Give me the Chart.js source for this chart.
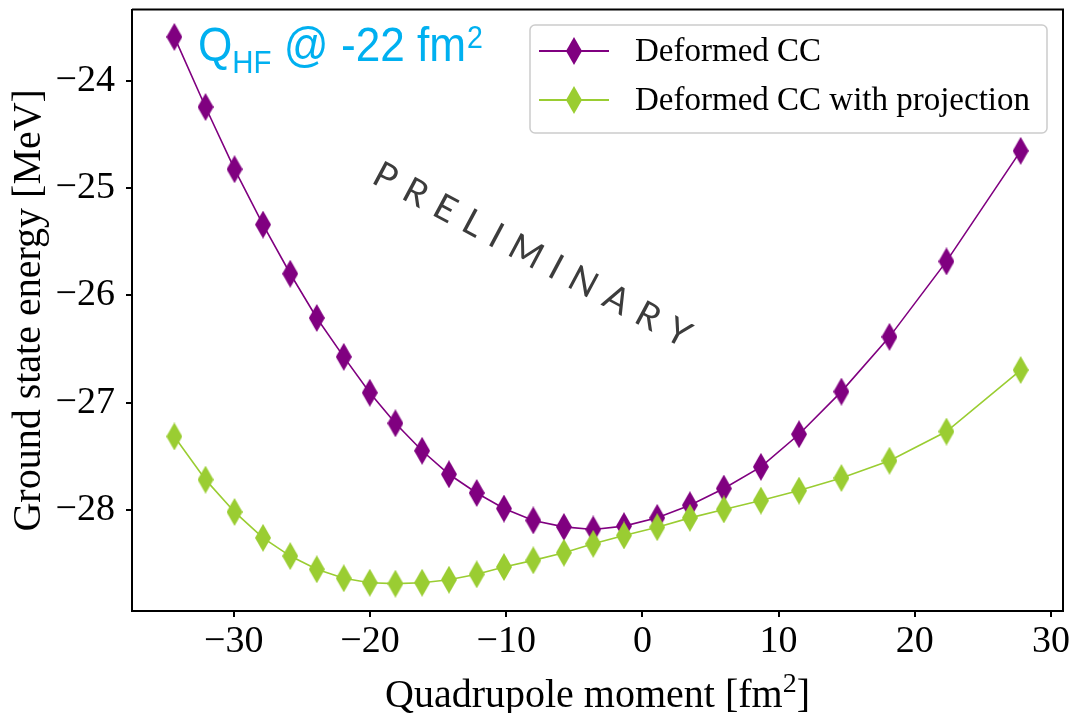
<!DOCTYPE html>
<html>
<head>
<meta charset="utf-8">
<script src="https://cdn.jsdelivr.net/npm/chart.js@4"></script>
<style>
  html, body { margin: 0; padding: 0; background: #fff; }
  #wrap { width: 1073px; height: 713px; }
</style>
</head>
<body>
<div id="wrap"><canvas id="energyChart" width="1073" height="713"></canvas></div>
<script>
// quadrupole moment grid [fm^2]
const quadMoments = [-34.36, -32.07, -29.94, -27.85, -25.85, -23.90, -21.92, -20.01, -18.13, -16.17,
  -14.20, -12.16, -10.16, -8.01, -5.76, -3.61, -1.35, 1.09, 3.49, 5.98, 8.70, 11.50, 14.61, 18.14, 22.32, 27.77];

// ground state energies [MeV]
const deformedCC = [-23.594, -24.247, -24.826, -25.342, -25.800, -26.212, -26.574, -26.908, -27.193, -27.449,
  -27.668, -27.842, -27.987, -28.098, -28.158, -28.182, -28.151, -28.074, -27.956, -27.801,
  -27.599, -27.295, -26.898, -26.388, -25.685, -24.655];
const deformedCCProj = [-27.316, -27.718, -28.019, -28.260, -28.430, -28.553, -28.637, -28.678, -28.687, -28.678,
  -28.650, -28.600, -28.532, -28.470, -28.399, -28.316, -28.238, -28.161, -28.074, -27.996,
  -27.913, -27.820, -27.703, -27.542, -27.270, -26.697];

const seriesNames = ["Deformed CC", "Deformed CC with projection"];
const xTicks = [-30, -20, -10, 0, 10, 20, 30];
const yTicks = [-28, -27, -26, -25, -24];

const PURPLE = "#800080";
const GREEN = "#9acd32";

// thin diamond marker, like matplotlib's "d"
function makeDiamond(color, w, h) {
  const c = document.createElement("canvas");
  c.width = w;
  c.height = h;
  const g = c.getContext("2d");
  g.fillStyle = color;
  g.beginPath();
  g.moveTo(w / 2, 0);
  g.lineTo(w, h / 2);
  g.lineTo(w / 2, h);
  g.lineTo(0, h / 2);
  g.closePath();
  g.fill();
  return c;
}
const purpleDiamond = makeDiamond(PURPLE, 16, 28);
const greenDiamond = makeDiamond(GREEN, 16, 28);

function toPoints(ys) {
  return quadMoments.map((x, i) => ({ x: x, y: ys[i] }));
}

// 5% padding around the data, same as matplotlib autoscale
function paddedRange(vals) {
  const lo = Math.min(...vals), hi = Math.max(...vals);
  const pad = (hi - lo) * 0.05;
  return [lo - pad, hi + pad];
}
const xRange = paddedRange(quadMoments);
const yRange = paddedRange(deformedCC.concat(deformedCCProj));

const minus = v => String(v).replace("-", "\u2212");

// frame on top/right, axis title with superscript, annotations and legend
const extras = {
  id: "extras",
  afterDraw(chart) {
    const { ctx, chartArea: a } = chart;
    ctx.save();

    ctx.strokeStyle = "#000";
    ctx.lineWidth = 2;
    ctx.beginPath();
    ctx.moveTo(a.left, a.top);
    ctx.lineTo(a.right, a.top);
    ctx.lineTo(a.right, a.bottom);
    ctx.stroke();

    // x axis title: Quadrupole moment [fm^2]
    ctx.fillStyle = "#000";
    ctx.textBaseline = "alphabetic";
    ctx.textAlign = "left";
    const big = "40px 'Liberation Serif'", small = "28px 'Liberation Serif'";
    ctx.font = big;
    const t1 = "Quadrupole moment [fm", t3 = "]";
    const w1 = ctx.measureText(t1).width, w3 = ctx.measureText(t3).width;
    ctx.font = small;
    const w2 = ctx.measureText("2").width;
    let tx = (a.left + a.right) / 2 - (w1 + w2 + w3) / 2;
    ctx.font = big;
    ctx.fillText(t1, tx, 707);
    ctx.font = small;
    ctx.fillText("2", tx + w1, 692);
    ctx.font = big;
    ctx.fillText(t3, tx + w1 + w2, 707);

    // Q_HF label
    ctx.fillStyle = "#00b0f0";
    ctx.translate(198, 0);
    ctx.scale(0.92, 1);
    let cx = 0;
    ctx.font = "48px 'Liberation Sans'";
    ctx.fillText("Q", cx, 61);
    cx += ctx.measureText("Q").width;
    ctx.font = "32px 'Liberation Sans'";
    ctx.fillText("HF", cx, 73);
    cx += ctx.measureText("HF").width;
    ctx.font = "48px 'Liberation Sans'";
    ctx.fillText(" @ -22 fm", cx, 61);
    cx += ctx.measureText(" @ -22 fm").width;
    ctx.font = "31px 'Liberation Sans'";
    ctx.fillText("2", cx + 1, 48);
    ctx.setTransform(1, 0, 0, 1, 0, 0);

    // PRELIMINARY watermark
    const word = "PRELIMINARY";
    const spacing = 12;
    ctx.font = "36px Lato";
    ctx.fillStyle = "#3c3c3c";
    let total = 0;
    for (const ch of word) total += ctx.measureText(ch).width + spacing;
    total -= spacing;
    ctx.translate(532, 255);
    ctx.rotate(28 * Math.PI / 180);
    ctx.textBaseline = "middle";
    let px = -total / 2;
    for (const ch of word) {
      ctx.fillText(ch, px, 0);
      px += ctx.measureText(ch).width + spacing;
    }
    ctx.setTransform(1, 0, 0, 1, 0, 0);

    // legend
    const lx = 530, ly = 25, lw = 517, lh = 108;
    ctx.fillStyle = "rgba(255,255,255,0.8)";
    ctx.strokeStyle = "#cccccc";
    ctx.lineWidth = 1.5;
    ctx.beginPath();
    ctx.roundRect(lx, ly, lw, lh, 5);
    ctx.fill();
    ctx.stroke();
    const rows = [
      { label: seriesNames[0], color: PURPLE, mark: purpleDiamond, y: 51 },
      { label: seriesNames[1], color: GREEN, mark: greenDiamond, y: 100 }
    ];
    ctx.font = "33px 'Liberation Serif'";
    ctx.textBaseline = "middle";
    for (const r of rows) {
      ctx.strokeStyle = r.color;
      ctx.lineWidth = 1.8;
      ctx.beginPath();
      ctx.moveTo(539, r.y);
      ctx.lineTo(609, r.y);
      ctx.stroke();
      ctx.drawImage(r.mark, 574 - r.mark.width / 2, r.y - r.mark.height / 2);
      ctx.fillStyle = "#000";
      ctx.fillText(r.label, 635, r.y + 1);
    }
    ctx.restore();
  }
};

new Chart(document.getElementById("energyChart").getContext("2d"), {
  type: "scatter",
  data: {
    datasets: [
      {
        label: seriesNames[0],
        data: toPoints(deformedCC),
        showLine: true,
        borderColor: PURPLE,
        borderWidth: 1.6,
        pointStyle: purpleDiamond,
        pointRadius: 8,
        order: 1
      },
      {
        label: seriesNames[1],
        data: toPoints(deformedCCProj),
        showLine: true,
        borderColor: GREEN,
        borderWidth: 1.6,
        pointStyle: greenDiamond,
        pointRadius: 8,
        order: 0
      }
    ]
  },
  options: {
    responsive: false,
    animation: false,
    layout: { padding: { top: 7, right: 10, left: 0, bottom: 0 } },
    scales: {
      x: {
        type: "linear",
        min: xRange[0],
        max: xRange[1],
        afterBuildTicks: s => { s.ticks = xTicks.map(v => ({ value: v })); },
        afterFit: s => { s.height = 102; s.paddingLeft = 0; s.paddingRight = 0; },
        grid: { drawOnChartArea: false, drawTicks: true, tickLength: 6, color: "#000", lineWidth: 2 },
        border: { display: true, color: "#000", width: 2 },
        ticks: {
          color: "#000",
          padding: 2,
          maxRotation: 0,
          font: { family: "'Liberation Serif'", size: 38 },
          callback: v => minus(v)
        }
      },
      y: {
        type: "linear",
        min: yRange[0],
        max: yRange[1],
        afterBuildTicks: s => { s.ticks = yTicks.map(v => ({ value: v })); },
        afterFit: s => { s.width = 132; s.paddingTop = 0; s.paddingBottom = 0; },
        grid: { drawOnChartArea: false, drawTicks: true, tickLength: 6, color: "#000", lineWidth: 2 },
        border: { display: true, color: "#000", width: 2 },
        ticks: {
          color: "#000",
          padding: 11,
          font: { family: "'Liberation Serif'", size: 38 },
          callback: v => minus(v)
        },
        title: {
          display: true,
          text: "Ground state energy [MeV]",
          color: "#000",
          font: { family: "'Liberation Serif'", size: 40 },
          padding: { top: 5, bottom: 0 }
        }
      }
    },
    plugins: {
      legend: { display: false },
      tooltip: { enabled: false }
    }
  },
  plugins: [extras]
});
</script>
</body>
</html>
